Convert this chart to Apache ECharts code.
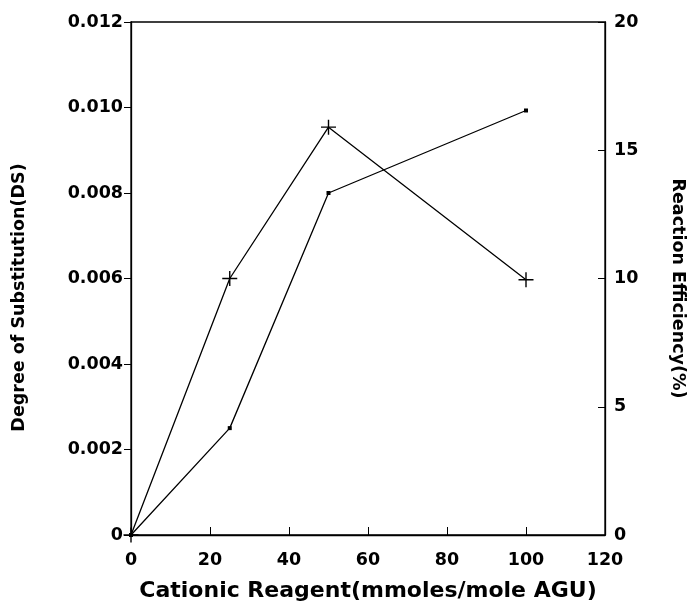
<!DOCTYPE html>
<html>
<head>
<meta charset="utf-8">
<script src="https://cdn.jsdelivr.net/npm/echarts@6/dist/echarts.min.js"></script>
<style>
  html, body { margin: 0; padding: 0; background: #fff; }
  #chart { width: 693px; height: 602px; }
</style>
</head>
<body>
<div id="chart"></div>
<script>
// reagent amounts (mmoles/mole AGU)
var reagent = [0, 25, 50, 100];
// degree of substitution (left axis)
var dsValues = [0, 0.0025, 0.008, 0.00993];
// reaction efficiency % (right axis)
var effValues = [0, 10, 15.9, 9.95];

var xTicks = [0, 20, 40, 60, 80, 100, 120];
var dsTicks = ['0', '0.002', '0.004', '0.006', '0.008', '0.010', '0.012'];

function pairs(xs, ys) {
  return xs.map(function (x, i) { return [x, ys[i]]; });
}

var chart = echarts.init(document.getElementById('chart'));
var font = 'DejaVu Sans';

chart.setOption({
  animation: false,
  grid: {
    left: 131, right: 88, top: 22, bottom: 67,
    outerBoundsMode: 'none',
    containLabel: false,
    show: true, borderColor: '#000', borderWidth: 1.3
  },
  xAxis: {
    type: 'value',
    min: 0, max: 120, interval: 20,
    name: 'Cationic Reagent(mmoles/mole AGU)',
    nameLocation: 'middle',
    nameGap: 45,
    nameTextStyle: { fontFamily: font, fontWeight: 'bold', fontSize: 22, color: '#000' },
    axisLine: { lineStyle: { color: '#000', width: 1.3 } },
    axisTick: { inside: true, length: 8, lineStyle: { color: '#000' } },
    axisLabel: {
      margin: 16, fontFamily: font, fontWeight: 'bold', fontSize: 17.5, color: '#000',
      formatter: function (v) { return xTicks.indexOf(v) >= 0 ? String(v) : ''; }
    },
    splitLine: { show: false }
  },
  yAxis: [{
    type: 'value',
    min: 0, max: 0.012, interval: 0.002,
    name: 'Degree of Substitution(DS)',
    nameLocation: 'middle',
    nameGap: 103,
    nameTextStyle: {
      fontFamily: font, fontWeight: 'bold', fontSize: 17.5, color: '#000',
      padding: [0, 38, 0, 0]
    },
    axisLine: { show: true, lineStyle: { color: '#000', width: 1.3 } },
    axisTick: { show: true, length: 7, lineStyle: { color: '#000' } },
    axisLabel: {
      margin: 8, fontFamily: font, fontWeight: 'bold', fontSize: 17.5, color: '#000',
      formatter: function (v) { return dsTicks[Math.round(v / 0.002)]; }
    },
    splitLine: { show: false }
  }, {
    type: 'value',
    min: 0, max: 20, interval: 5,
    position: 'right',
    name: 'Reaction Efficiency(%)',
    nameLocation: 'middle',
    nameGap: 64,
    nameRotate: -90,
    nameTextStyle: {
      fontFamily: font, fontWeight: 'bold', fontSize: 17.5, color: '#000',
      padding: [0, 0, 0, 20]
    },
    axisLine: { show: true, lineStyle: { color: '#000', width: 1.3 } },
    axisTick: { show: true, inside: true, length: 7, lineStyle: { color: '#000' } },
    axisLabel: { margin: 9, fontFamily: font, fontWeight: 'bold', fontSize: 17.5, color: '#000' },
    splitLine: { show: false }
  }],
  series: [{
    name: 'DS',
    type: 'line',
    yAxisIndex: 0,
    data: pairs(reagent, dsValues),
    symbol: 'rect',
    symbolSize: 4,
    itemStyle: { color: '#000' },
    lineStyle: { color: '#000', width: 1.3 }
  }, {
    name: 'Efficiency',
    type: 'line',
    yAxisIndex: 1,
    data: pairs(reagent, effValues),
    symbol: 'path://M0,-10 L0,10 M-10,0 L10,0',
    symbolSize: 15,
    itemStyle: { color: 'none', borderColor: '#000', borderWidth: 1.4 },
    lineStyle: { color: '#000', width: 1.3 }
  }]
});
</script>
</body>
</html>
